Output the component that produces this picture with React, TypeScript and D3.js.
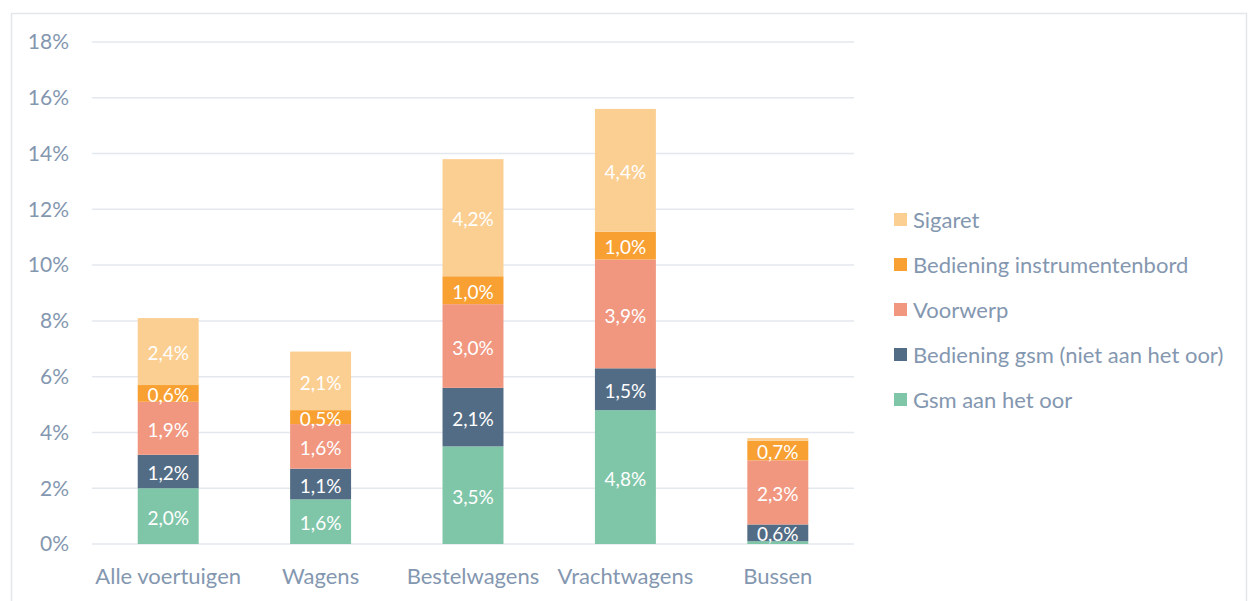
import React, { useEffect, useRef } from 'react';
import * as d3 from 'd3';

// categories and series (in %), bottom to top
const categories = ['Alle voertuigen', 'Wagens', 'Bestelwagens', 'Vrachtwagens', 'Bussen'];
const seriesNames = ['Gsm aan het oor', 'Bediening gsm (niet aan het oor)', 'Voorwerp', 'Bediening instrumentenbord', 'Sigaret'];
const gsmOor = [2.0, 1.6, 3.5, 4.8, 0.1];
const gsmBediening = [1.2, 1.1, 2.1, 1.5, 0.6];
const voorwerp = [1.9, 1.6, 3.0, 3.9, 2.3];
const instrumentenbord = [0.6, 0.5, 1.0, 1.0, 0.7];
const sigaret = [2.4, 2.1, 4.2, 4.4, 0.1];
const yTicks = [0, 2, 4, 6, 8, 10, 12, 14, 16, 18];

const colors = ['#7FC6A9', '#536C85', '#F19780', '#F8A031', '#FBCE91'];
const textColor = '#8497B0';
const font = 'Lato, "Open Sans", sans-serif';

const App = () => {
  const svgRef = useRef<SVGSVGElement>(null);

  useEffect(() => {
    if (!svgRef.current) return;
    const svg = d3.select(svgRef.current);
    svg.selectAll('*').remove();

    const width = 1248;
    const height = 601;
    const margin = { top: 42, left: 92, right: 394, bottom: 57 };

    // outer frame
    svg.append('rect')
      .attr('x', 11.5).attr('y', 13.5)
      .attr('width', 1235).attr('height', 620)
      .attr('fill', 'none')
      .attr('stroke', '#E3E7EC')
      .attr('stroke-width', 1.5);

    const table = categories.map((c, i) => ({
      cat: c,
      s0: gsmOor[i], s1: gsmBediening[i], s2: voorwerp[i], s3: instrumentenbord[i], s4: sigaret[i],
    }));
    const keys = ['s0', 's1', 's2', 's3', 's4'];
    const stacked = d3.stack<any>().keys(keys)(table);

    const x = d3.scaleBand()
      .domain(categories)
      .range([margin.left, width - margin.right])
      .paddingInner(0.6)
      .paddingOuter(0.3);

    const y = d3.scaleLinear()
      .domain([0, 18])
      .range([height - margin.bottom, margin.top]);

    // gridlines
    svg.append('g')
      .selectAll('line')
      .data(yTicks)
      .enter()
      .append('line')
      .attr('x1', margin.left)
      .attr('x2', width - margin.right)
      .attr('y1', d => y(d))
      .attr('y2', d => y(d))
      .attr('stroke', '#E3E8EE')
      .attr('stroke-width', 1.5);

    // y tick labels
    svg.append('g')
      .selectAll('text')
      .data(yTicks)
      .enter()
      .append('text')
      .attr('x', 69)
      .attr('y', d => y(d))
      .attr('dy', '0.35em')
      .attr('text-anchor', 'end')
      .attr('fill', textColor)
      .style('font-family', font)
      .style('font-size', '21px')
      .text(d => `${d}%`);

    // bars
    const layers = svg.append('g')
      .selectAll('g')
      .data(stacked)
      .enter()
      .append('g')
      .attr('fill', (d, i) => colors[i]);

    layers.selectAll('rect')
      .data(d => d)
      .enter()
      .append('rect')
      .attr('x', d => x(d.data.cat)!)
      .attr('y', d => y(d[1]))
      .attr('width', x.bandwidth())
      .attr('height', d => y(d[0]) - y(d[1]));

    // value labels (tiny segments are left unlabelled)
    layers.selectAll('text')
      .data(d => d)
      .enter()
      .filter(d => d[1] - d[0] >= 0.3)
      .append('text')
      .attr('x', d => x(d.data.cat)! + x.bandwidth() / 2)
      .attr('y', d => (y(d[0]) + y(d[1])) / 2 + 2)
      .attr('dy', '0.35em')
      .attr('text-anchor', 'middle')
      .attr('fill', '#FFFFFF')
      .style('font-family', font)
      .style('font-size', '19px')
      .text(d => d3.format('.1f')(d[1] - d[0]).replace('.', ',') + '%');

    // category labels
    svg.append('g')
      .selectAll('text')
      .data(categories)
      .enter()
      .append('text')
      .attr('x', d => x(d)! + x.bandwidth() / 2)
      .attr('y', height - margin.bottom + 32)
      .attr('dy', '0.35em')
      .attr('text-anchor', 'middle')
      .attr('fill', textColor)
      .style('font-family', font)
      .style('font-size', '22px')
      .text(d => d);

    // legend, top entry is the top series
    const legendItems = seriesNames.map((n, i) => ({ name: n, color: colors[i] })).reverse();
    const legend = svg.append('g')
      .selectAll('g')
      .data(legendItems)
      .enter()
      .append('g')
      .attr('transform', (d, i) => `translate(894,${220 + i * 45})`);

    legend.append('rect')
      .attr('x', 0).attr('y', -7)
      .attr('width', 13).attr('height', 13)
      .attr('fill', d => d.color);

    legend.append('text')
      .attr('x', 19)
      .attr('y', 0)
      .attr('dy', '0.35em')
      .attr('fill', textColor)
      .style('font-family', font)
      .style('font-size', '22px')
      .text(d => d.name);
  }, []);

  return <svg ref={svgRef} width={1248} height={601} style={{ position: 'absolute', left: 0, top: 0 }} />;
};

export default App;
